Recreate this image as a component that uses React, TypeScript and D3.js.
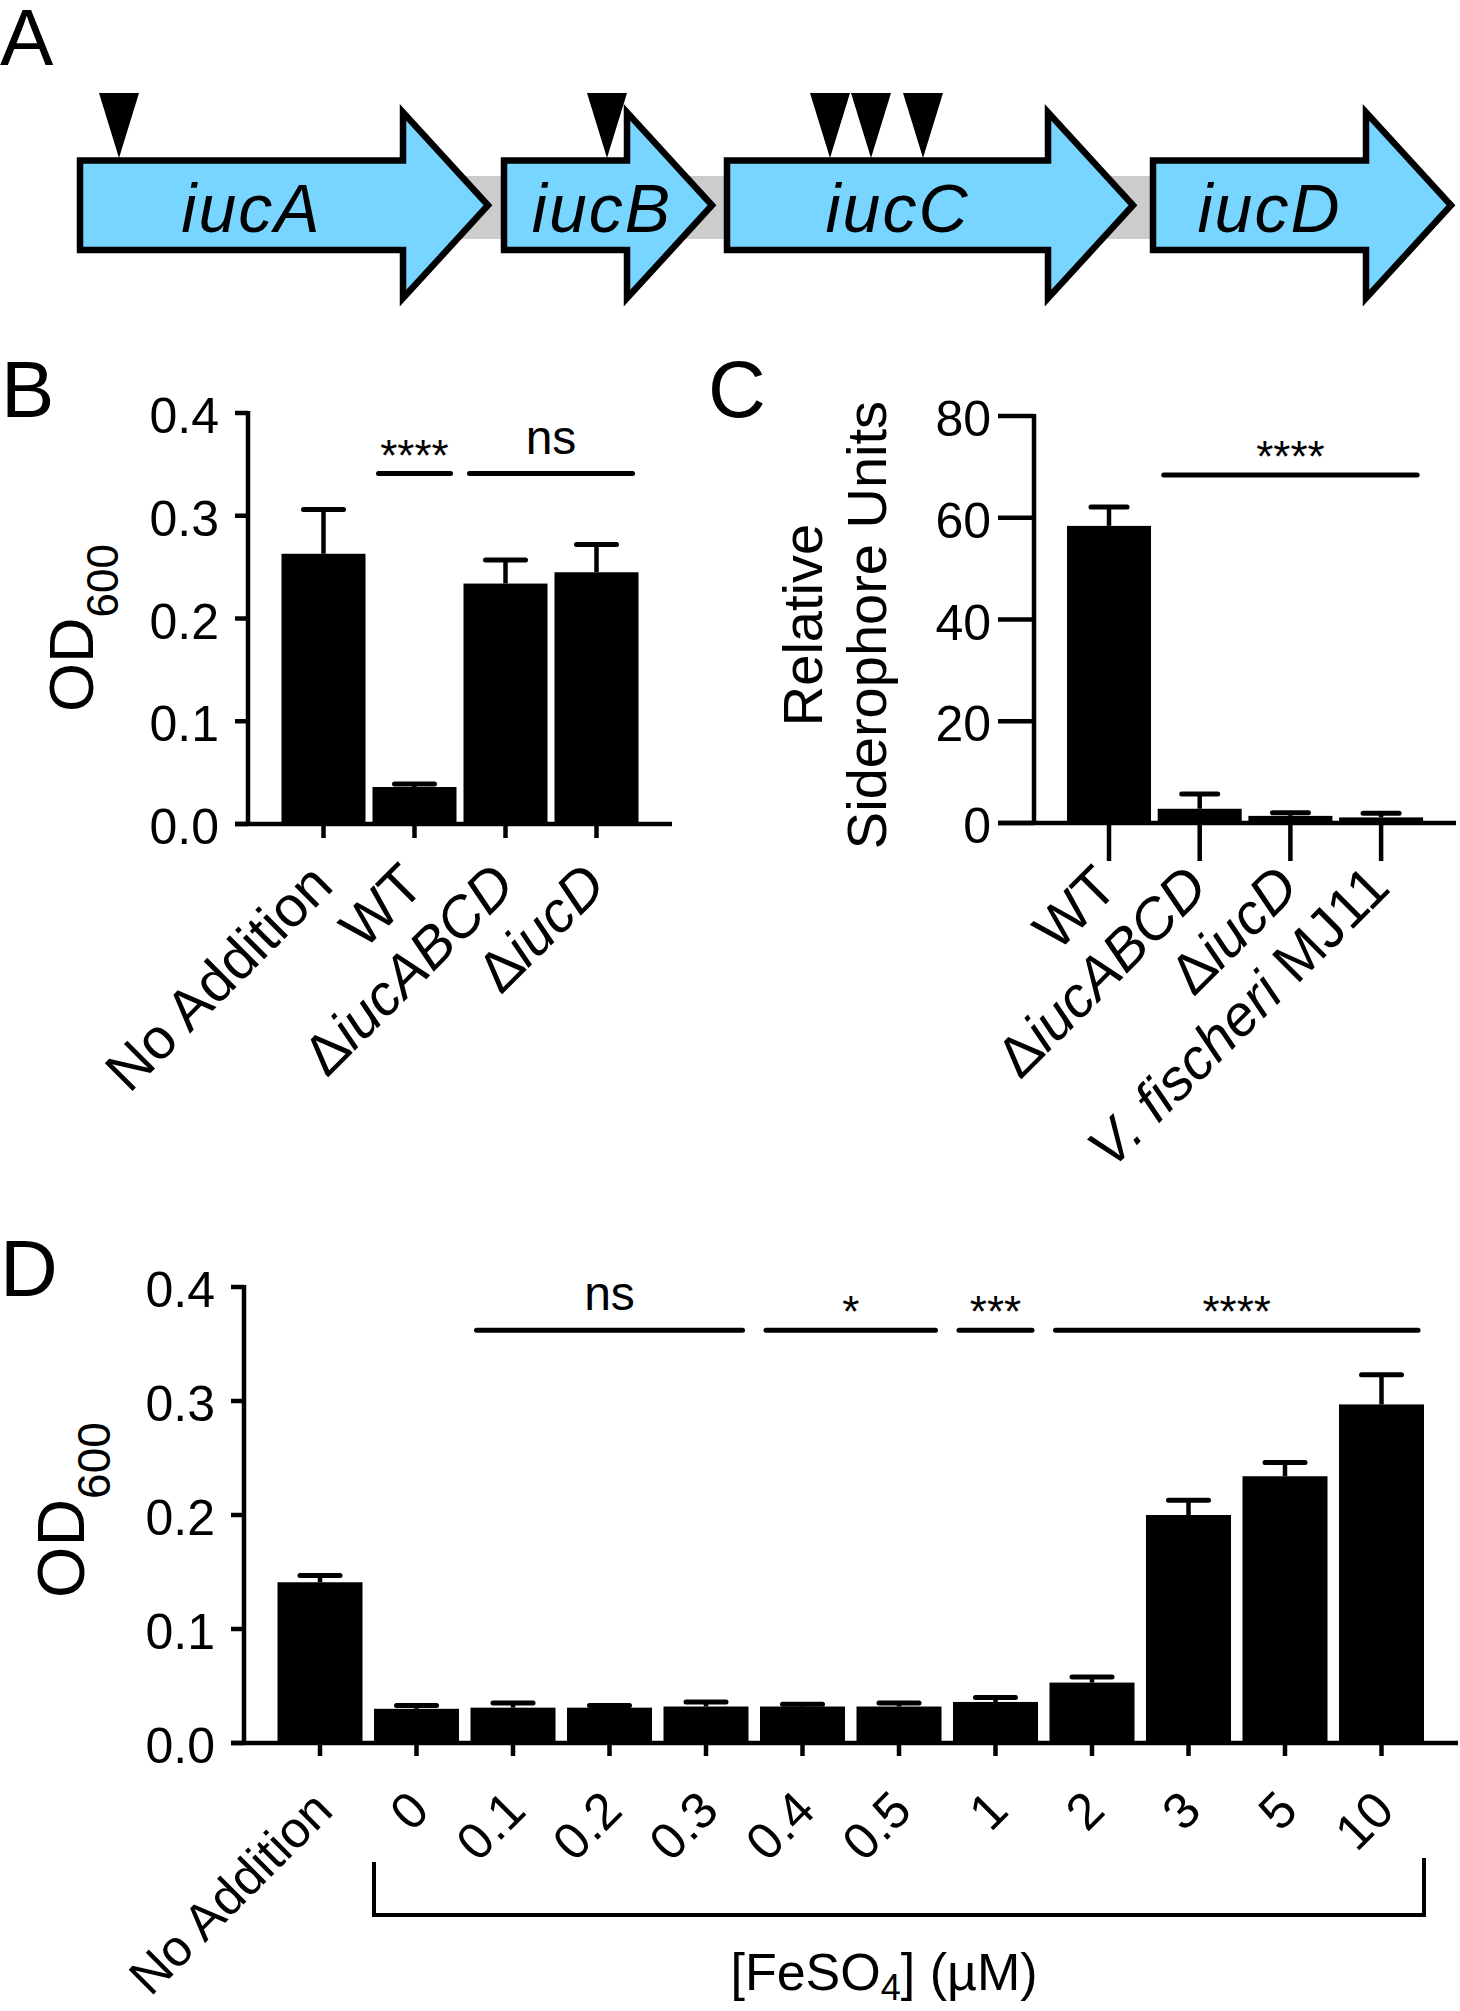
import React from "react";
import * as d3 from "d3";

const FONT = "'Liberation Sans', Arial, Helvetica, sans-serif";

// ---------- Panel A data (gene map, arbitrary map units) ----------
const geneNames = ["iucA", "iucB", "iucC", "iucD"];
const geneStarts = [0, 424, 647, 1073];
const geneEnds = [408, 632, 1053, 1371];
const insertionSites = [39, 527, 750, 791, 843];

// ---------- Panel B data ----------
const bCategories = ["No Addition", "WT", "ΔiucABCD", "ΔiucD"];
const bMeans = [0.263, 0.036, 0.234, 0.245];
const bErrors = [0.043, 0.003, 0.023, 0.027];
const bYTicks = [0, 0.1, 0.2, 0.3, 0.4];
const bSig = [
  { from: "WT", to: "WT", label: "****", level: 0.341 },
  { from: "ΔiucABCD", to: "ΔiucD", label: "ns", level: 0.341 },
];

// ---------- Panel C data ----------
const cCategories = ["WT", "ΔiucABCD", "ΔiucD", "V. fischeri MJ11"];
const cMeans = [58.4, 2.8, 1.4, 1.1];
const cErrors = [3.7, 2.9, 0.6, 0.8];
const cYTicks = [0, 20, 40, 60, 80];
const cSig = [{ from: "ΔiucABCD", to: "V. fischeri MJ11", label: "****", level: 68.4 }];

// ---------- Panel D data ----------
const dCategories = ["No Addition", "0", "0.1", "0.2", "0.3", "0.4", "0.5", "1", "2", "3", "5", "10"];
const dMeans = [0.141, 0.030, 0.031, 0.031, 0.032, 0.032, 0.032, 0.036, 0.053, 0.200, 0.234, 0.297];
const dErrors = [0.006, 0.003, 0.004, 0.002, 0.004, 0.002, 0.003, 0.004, 0.005, 0.013, 0.012, 0.026];
const dYTicks = [0, 0.1, 0.2, 0.3, 0.4];
const dSig = [
  { from: "0.1", to: "0.3", label: "ns", level: 0.362 },
  { from: "0.4", to: "0.5", label: "*", level: 0.362 },
  { from: "1", to: "1", label: "***", level: 0.362 },
  { from: "2", to: "10", label: "****", level: 0.362 },
];
const dBracket = { from: "0", to: "10" };

// Rich label segments (italic gene names)
function labelSegments(label: string): { t: string; italic: boolean }[] {
  if (label.startsWith("Δ")) return [{ t: "Δ", italic: false }, { t: label.slice(1), italic: true }];
  if (label.startsWith("V. fischeri")) return [{ t: "V. fischeri", italic: true }, { t: label.slice(11), italic: false }];
  return [{ t: label, italic: false }];
}

type BarProps = {
  cats: string[];
  means: number[];
  errs: number[];
  yTicks: number[];
  yMax: number;
  yFmt: (v: number) => string;
  axisX: number;
  yTop: number;
  yBottom: number;
  barLeft: number;
  step: number;
  barWidth: number;
  xEnd: number;
  yTickLen: number;
  xTickLen: number;
  labelGap: number;
  capW: number;
  sig: { from: string; to: string; label: string; level: number }[];
  xLabelDx: number;
  xLabelDy: number;
  xLabelSize: number;
};

function BarChart(p: BarProps) {
  const n = p.cats.length;
  const gap = p.step - p.barWidth;
  const x = d3
    .scaleBand<string>()
    .domain(p.cats)
    .range([p.barLeft, p.barLeft + n * p.step - gap])
    .paddingInner(gap / p.step)
    .paddingOuter(0);
  const y = d3.scaleLinear().domain([0, p.yMax]).range([p.yBottom, p.yTop]);
  const bw = x.bandwidth();
  const AX = 4.5;
  return (
    <g>
      {p.cats.map((c, i) => (
        <rect key={"b" + c} x={x(c)} y={y(p.means[i])} width={bw} height={y(0) - y(p.means[i])} fill="#000" />
      ))}
      {p.cats.map((c, i) => {
        const cx = (x(c) as number) + bw / 2;
        const top = y(p.means[i] + p.errs[i]);
        return (
          <g key={"e" + c} stroke="#000">
            <line x1={cx} x2={cx} y1={y(p.means[i])} y2={top} strokeWidth={4.5} />
            <line x1={cx - p.capW / 2} x2={cx + p.capW / 2} y1={top} y2={top} strokeWidth={5} strokeLinecap="round" />
          </g>
        );
      })}
      <line x1={p.axisX} x2={p.axisX} y1={y(p.yMax) - 2} y2={y(0)} stroke="#000" strokeWidth={AX} />
      {p.yTicks.map((t) => (
        <g key={"yt" + t}>
          <line x1={p.axisX - p.yTickLen} x2={p.axisX} y1={y(t)} y2={y(t)} stroke="#000" strokeWidth={AX} />
          <text
            x={p.axisX - p.yTickLen - p.labelGap}
            y={y(t) + 20}
            textAnchor="end"
            fontSize={50}
            fontFamily={FONT}
          >
            {p.yFmt(t)}
          </text>
        </g>
      ))}
      <line x1={p.axisX - p.yTickLen} x2={p.xEnd} y1={y(0)} y2={y(0)} stroke="#000" strokeWidth={AX} />
      {p.cats.map((c) => {
        const cx = (x(c) as number) + bw / 2;
        const ax = cx + p.xLabelDx;
        const ay = y(0) + p.xTickLen + p.xLabelDy;
        return (
          <g key={"xt" + c}>
            <line x1={cx} x2={cx} y1={y(0)} y2={y(0) + p.xTickLen} stroke="#000" strokeWidth={AX} />
            <text
              transform={`translate(${ax},${ay}) rotate(-45)`}
              textAnchor="end"
              fontSize={p.xLabelSize}
              fontFamily={FONT}
            >
              {labelSegments(c).map((s, k) => (
                <tspan key={k} fontStyle={s.italic ? "italic" : "normal"}>
                  {s.t}
                </tspan>
              ))}
            </text>
          </g>
        );
      })}
      {p.sig.map((s, i) => {
        const x1 = (x(s.from) as number) + 6;
        const x2 = (x(s.to) as number) + bw - 6;
        const ly = y(s.level);
        const isStar = s.label.includes("*");
        return (
          <g key={"s" + i}>
            <line x1={x1} x2={x2} y1={ly} y2={ly} stroke="#000" strokeWidth={5} strokeLinecap="round" />
            <text
              x={(x1 + x2) / 2}
              y={isStar ? ly - 3 : ly - 20}
              textAnchor="middle"
              fontSize={isStar ? 44 : 48}
              fontFamily={FONT}
            >
              {s.label}
            </text>
          </g>
        );
      })}
    </g>
  );
}

function GeneMap() {
  const mx = d3.scaleLinear().domain([0, 1371]).range([80, 1451]);
  const yTop = 160.5;
  const yBot = 250;
  const mid = (yTop + yBot) / 2;
  const headHalf = 93;
  const headLen = 85;
  return (
    <g>
      <rect x={mx(320)} y={176} width={mx(1100) - mx(320)} height={63} fill="#cccccc" />
      {geneNames.map((g, i) => {
        const x0 = mx(geneStarts[i]);
        const tip = mx(geneEnds[i]);
        const hx = tip - headLen;
        const path = `M${x0},${yTop} L${hx},${yTop} L${hx},${mid - headHalf} L${tip},${mid} L${hx},${mid + headHalf} L${hx},${yBot} L${x0},${yBot} Z`;
        const cx = Math.max((x0 + hx) / 2 + 10, x0 + 98);
        return (
          <g key={g}>
            <path d={path} fill="#77d5ff" stroke="#000" strokeWidth={6.5} strokeLinejoin="miter" />
            <text
              x={cx}
              y={232}
              textAnchor="middle"
              fontSize={68}
              letterSpacing={2}
              fontStyle="italic"
              fontFamily={FONT}
            >
              {g}
            </text>
          </g>
        );
      })}
      {insertionSites.map((s, i) => {
        const t = mx(s);
        return <path key={"ins" + i} d={`M${t - 20},93 L${t + 20},93 L${t},158 Z`} fill="#000" />;
      })}
    </g>
  );
}

export default function App() {
  const fmt1 = (v: number) => v.toFixed(1);
  const fmt0 = (v: number) => String(v);

  const dStep = 96.5;
  const dBarW = 85;
  const dBarLeft = 277.5;
  const dx = d3
    .scaleBand<string>()
    .domain(dCategories)
    .range([dBarLeft, dBarLeft + dCategories.length * dStep - (dStep - dBarW)])
    .paddingInner((dStep - dBarW) / dStep)
    .paddingOuter(0);
  const brL = dx(dBracket.from) as number;
  const brR = (dx(dBracket.to) as number) + dx.bandwidth();

  return (
    <div style={{ position: "absolute", left: 0, top: 0 }}>
      <svg width={1460} height={2011} viewBox="0 0 1460 2011" style={{ display: "block", background: "#fff" }}>
        <rect x={0} y={0} width={1460} height={2011} fill="#fff" />
        <text x={0} y={65} fontSize={80} fontFamily={FONT}>A</text>
        <text x={1} y={417} fontSize={80} fontFamily={FONT}>B</text>
        <text x={708} y={417} fontSize={80} fontFamily={FONT}>C</text>
        <text x={0} y={1296} fontSize={80} fontFamily={FONT}>D</text>

        <GeneMap />

        <BarChart
          cats={bCategories}
          means={bMeans}
          errs={bErrors}
          yTicks={bYTicks}
          yMax={0.4}
          yFmt={fmt1}
          axisX={248}
          yTop={413}
          yBottom={824}
          barLeft={281.5}
          step={91}
          barWidth={84}
          xEnd={672}
          yTickLen={13}
          xTickLen={14}
          labelGap={16}
          capW={40}
          sig={bSig}
          xLabelDx={12}
          xLabelDy={50}
          xLabelSize={57}
        />
        <text transform="translate(93,628) rotate(-90)" textAnchor="middle" fontSize={63} fontFamily={FONT}>
          OD<tspan fontSize={44} dy={25}>600</tspan>
        </text>

        <BarChart
          cats={cCategories}
          means={cMeans}
          errs={cErrors}
          yTicks={cYTicks}
          yMax={80}
          yFmt={fmt0}
          axisX={1034}
          yTop={416}
          yBottom={823}
          barLeft={1067}
          step={90.7}
          barWidth={84}
          xEnd={1456}
          yTickLen={36}
          xTickLen={38}
          labelGap={7}
          capW={36}
          sig={cSig}
          xLabelDx={11}
          xLabelDy={29}
          xLabelSize={57}
        />
        <text transform="translate(822,625) rotate(-90)" textAnchor="middle" fontSize={56} fontFamily={FONT}>
          Relative
        </text>
        <text transform="translate(886,625) rotate(-90)" textAnchor="middle" fontSize={56} fontFamily={FONT}>
          Siderophore Units
        </text>

        <BarChart
          cats={dCategories}
          means={dMeans}
          errs={dErrors}
          yTicks={dYTicks}
          yMax={0.4}
          yFmt={fmt1}
          axisX={244}
          yTop={1287}
          yBottom={1743}
          barLeft={dBarLeft}
          step={dStep}
          barWidth={dBarW}
          xEnd={1458}
          yTickLen={13}
          xTickLen={13}
          labelGap={16}
          capW={40}
          sig={dSig}
          xLabelDx={15}
          xLabelDy={57}
          xLabelSize={51}
        />
        <text transform="translate(84,1510) rotate(-90)" textAnchor="middle" fontSize={66} fontFamily={FONT}>
          OD<tspan fontSize={46} dy={26}>600</tspan>
        </text>
        <path
          d={`M${brL},1862 L${brL},1915 L${brR},1915 L${brR},1858`}
          fill="none"
          stroke="#000"
          strokeWidth={4}
        />
        <text x={884} y={1990} textAnchor="middle" fontSize={52} fontFamily={FONT}>
          [FeSO<tspan fontSize={36} dy={10}>4</tspan>
          <tspan dy={-10}>] (µM)</tspan>
        </text>
      </svg>
    </div>
  );
}
